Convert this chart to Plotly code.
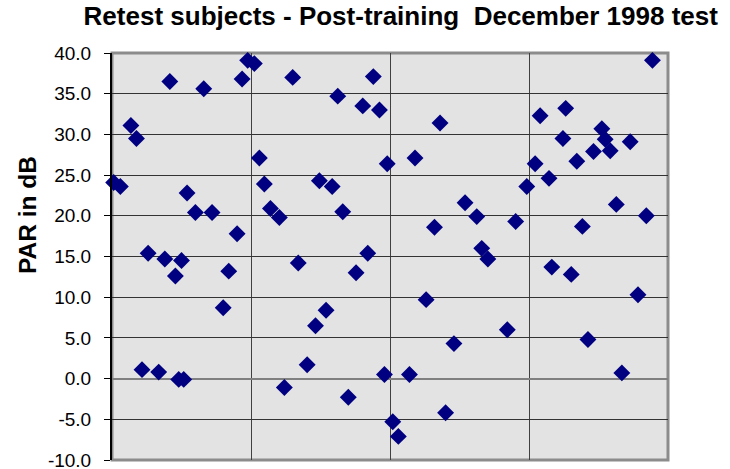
import plotly.graph_objects as go

# subject position (x scale hidden in the original) and PAR in dB
subject_pos = [
    0.3, 1.5, 3.4, 4.4, 5.4, 6.5, 8.4, 9.5, 10.4, 11.4,
    12.0, 12.5, 12.9, 13.5, 15.0, 16.5, 18.0, 20.0, 21.0, 22.5,
    23.4, 24.4, 25.6, 26.5, 27.4, 28.5, 30.1, 31.0, 32.5, 33.5,
    35.1, 36.6, 37.3, 38.5, 39.6, 40.6, 41.5, 42.5, 43.9, 45.1,
    46.0, 47.0, 48.1, 49.0, 49.5, 50.5, 51.5, 53.5, 54.5, 56.5,
    58.0, 59.0, 60.0, 61.5, 63.5, 65.6, 66.5, 67.6, 71.1, 72.6,
    74.6, 76.1, 77.0, 78.6, 79.1, 81.1, 81.6, 82.6, 83.6, 84.6,
    85.6, 86.6, 88.1, 88.7, 89.6, 90.7, 91.7, 93.2, 94.6, 96.1,
    97.2,
]
par_db = [
    24.1, 23.6, 31.1, 29.5, 1.1, 15.4, 0.8, 14.7, 36.5, 12.6,
    -0.1, 14.5, -0.1, 22.8, 20.4, 35.6, 20.4, 8.7, 13.2, 17.8,
    36.8, 39.1, 38.7, 27.1, 23.9, 20.9, 19.8, -1.1, 37.0, 14.2,
    1.7, 6.5, 24.3, 8.4, 23.6, 34.7, 20.5, -2.3, 13.0, 33.5,
    15.4, 37.1, 33.0, 0.5, 26.4, -5.3, -7.1, 0.5, 27.1, 9.7,
    18.6, 31.4, -4.2, 4.3, 21.6, 19.9, 16.0, 14.7, 6.0, 19.3,
    23.6, 26.4, 32.3, 24.6, 13.7, 29.5, 33.2, 12.8, 26.7, 18.7,
    4.8, 27.9, 30.7, 29.4, 28.0, 21.4, 0.7, 29.1, 10.3, 20.0,
    39.1,
]

y_ticks = [-10, -5, 0, 5, 10, 15, 20, 25, 30, 35, 40]
y_labels = ["-10.0", "-5.0", "0.0", "5.0", "10.0", "15.0", "20.0", "25.0", "30.0", "35.0", "40.0"]

FONT = "Liberation Sans, Arial, sans-serif"

fig = go.Figure(
    go.Scatter(
        x=subject_pos,
        y=par_db,
        mode="markers",
        marker=dict(symbol="diamond", size=13, color="#000080", line=dict(width=0)),
        cliponaxis=False,
        showlegend=False,
    )
)

fig.update_layout(
    width=730,
    height=469,
    paper_bgcolor="white",
    plot_bgcolor="#e3e3e3",
    font=dict(family=FONT, color="black"),
    margin=dict(l=112, r=62, t=53, b=9),
    title=dict(
        text="Retest subjects - Post-training  December 1998 test",
        font=dict(size=26, weight="bold", color="black"),
        xref="container", x=0.549, xanchor="center",
        yref="container", y=0.985, yanchor="top",
    ),
    xaxis=dict(
        range=[0, 100],
        dtick=25,
        tick0=0,
        showticklabels=False,
        showgrid=True,
        gridcolor="#404040",
        gridwidth=1,
        zeroline=False,
        showline=False,
        ticks="",
        automargin=False,
    ),
    yaxis=dict(
        range=[-10, 40],
        tickvals=y_ticks,
        ticktext=y_labels,
        tickfont=dict(size=19),
        showgrid=True,
        gridcolor="#333333",
        gridwidth=1,
        zeroline=True,
        zerolinecolor="#808080",
        zerolinewidth=2,
        showline=True,
        linecolor="black",
        linewidth=2,
        ticks="outside",
        ticklen=6,
        tickcolor="black",
        ticklabelstandoff=9,
        ticklabeloverflow="allow",
        automargin=False,
    ),
    annotations=[
        dict(
            text="PAR in dB",
            textangle=-90,
            xref="paper", yref="paper",
            x=-0.152, y=0.603,
            xanchor="center", yanchor="middle",
            showarrow=False,
            font=dict(size=24.5, weight="bold", color="black"),
        )
    ],
    shapes=[
        dict(
            type="rect",
            xref="x domain", yref="y domain",
            x0=0, x1=1, y0=0, y1=1,
            line=dict(color="#8c8c8c", width=3),
            layer="below",
        )
    ],
)

# drop the default 8px body margin so the figure fills the window exactly
fig.write_html(
    "out.html",
    config={"displayModeBar": False},
    post_script="document.body.style.margin = '0';",
)
